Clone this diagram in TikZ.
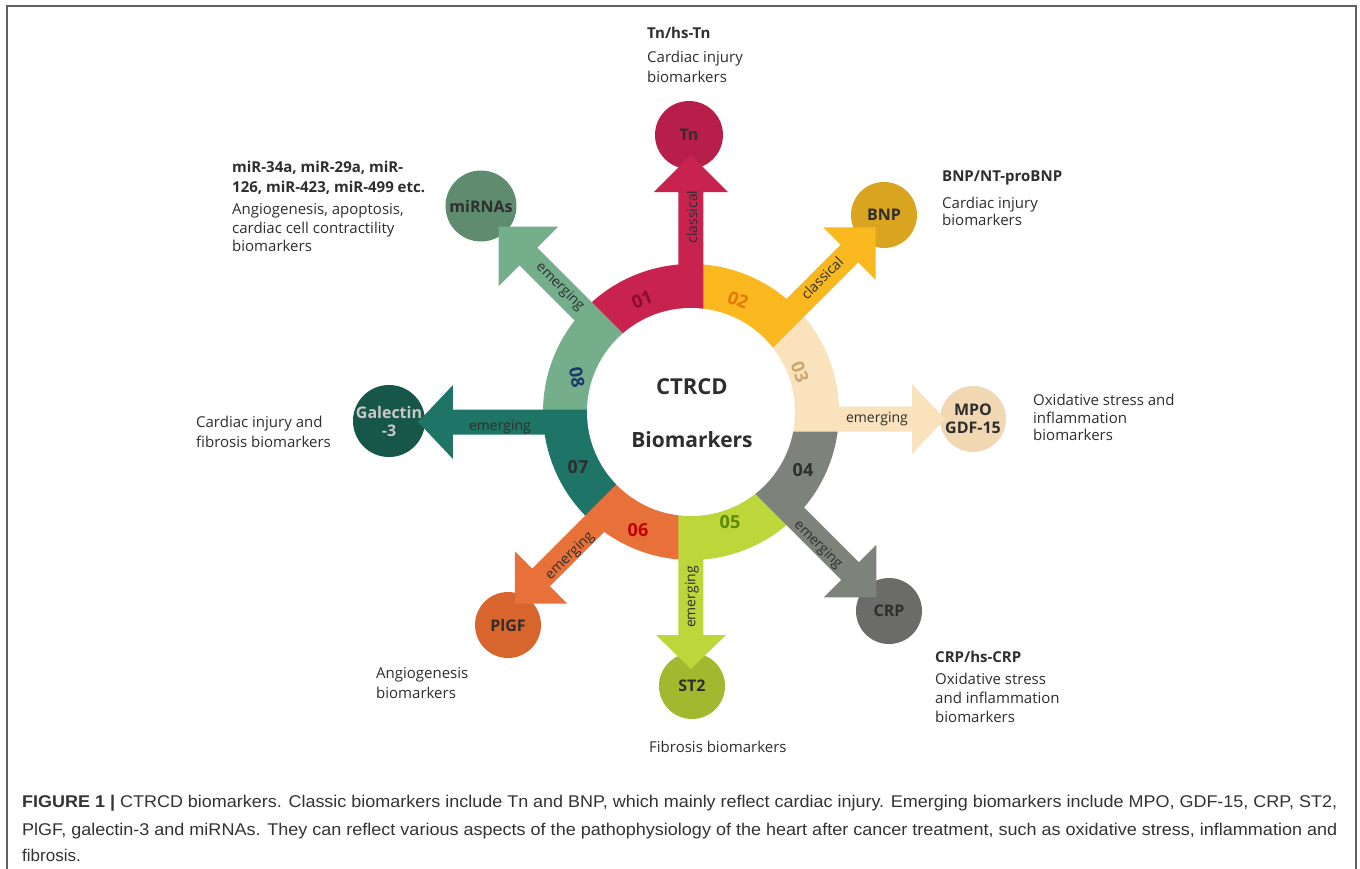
\documentclass[tikz,border=0pt]{standalone}
\usepackage{fontspec}
\setmainfont{Open Sans}
\newfontfamily\capfont{Liberation Sans}
\usepackage{graphicx}
\definecolor{cA}{HTML}{C8234F}\definecolor{kA}{HTML}{B71F4A}
\definecolor{cB}{HTML}{F8B81E}\definecolor{kB}{HTML}{D9A521}
\definecolor{cC}{HTML}{F9E2BC}\definecolor{kC}{HTML}{F2D7B3}
\definecolor{cD}{HTML}{7D837B}\definecolor{kD}{HTML}{6B6B69}
\definecolor{cE}{HTML}{BDD63A}\definecolor{kE}{HTML}{A2B82E}
\definecolor{cF}{HTML}{E8713A}\definecolor{kF}{HTML}{D9652E}
\definecolor{cG}{HTML}{1E7567}\definecolor{kG}{HTML}{17574A}
\definecolor{cH}{HTML}{74AE8B}\definecolor{kH}{HTML}{5F8C6F}
\definecolor{nA}{HTML}{8C0B2E}\definecolor{nB}{HTML}{E8760C}
\definecolor{nC}{HTML}{CCA66A}\definecolor{nE}{HTML}{5B8A05}
\definecolor{nF}{HTML}{C00000}\definecolor{nH}{HTML}{1B3A6B}
\definecolor{txt}{HTML}{2E2E2E}\definecolor{frameC}{HTML}{606060}
\definecolor{capC}{HTML}{333333}\definecolor{galtxt}{HTML}{C8C8C8}
\newcommand\markerarrow[6]{%
  \fill[#4, rotate=#1] (0,{#2-12.5}) -- ({#3-#5},{#2-12.5}) -- ({#3-#5},{#2-#6})
    -- (#3,#2) -- ({#3-#5},{#2+#6}) -- ({#3-#5},{#2+12.5}) -- (0,{#2+12.5}) -- cycle;}
\tikzset{
  ringnum/.style={font=\bfseries\fontsize{18}{18}\selectfont, inner sep=0},
  blabel/.style={font=\fontsize{14}{14}\selectfont, text=txt, inner sep=0},
  ctext/.style={font=\bfseries\fontsize{16}{18}\selectfont, text=txt, align=center, inner sep=0},
  anno/.style={anchor=base west, inner sep=0, font=\fontsize{15}{15}\selectfont, text=txt},
  annob/.style={anchor=base west, inner sep=0, font=\bfseries\fontsize{15}{15}\selectfont, text=txt},
  bubble/.style={circle, inner sep=0, draw=none},
  capline/.style={anchor=base west, inner sep=0, font=\capfont\fontsize{17}{17}\selectfont, text=capC}
}
\begin{document}
\begin{tikzpicture}[x=1pt,y=1pt]
\useasboundingbox (-691,-456) rectangle (669,412);
\fill[white] (-691,-456) rectangle (669,412);
\draw[line width=2pt, frameC] (-684,-460) -- (-684,406) -- (665,406) -- (665,-460);
% ring sectors
\foreach \a/\c in {90/cA,45/cB,0/cC,-45/cD,-90/cE,-135/cF,180/cG,135/cH}
  \fill[\c] (0,0) -- (\a:148) arc[start angle=\a, delta angle=45, radius=148] -- cycle;
% bubbles
\node[bubble, fill=kA, minimum size=68pt] (tn) at (-2,277) {};
\node[bubble, fill=kB, minimum size=66pt] (bnp) at (193,197) {};
\node[bubble, fill=kC, minimum size=66pt] (mpo) at (282,-7) {};
\node[bubble, fill=kD, minimum size=66pt] (crp) at (198,-199) {};
\node[bubble, fill=kE, minimum size=66pt] (st2) at (1,-274) {};
\node[bubble, fill=kF, minimum size=66pt] (plgf) at (-183,-213) {};
\node[bubble, fill=kG, minimum size=72pt] (gal) at (-302,-9) {};
\node[bubble, fill=kH, minimum size=71pt] (mir) at (-210,206) {};
% arrows
\markerarrow{90}{0}{257}{cA}{37}{37}
\markerarrow{45}{0}{261}{cB}{37}{37}
\markerarrow{0}{-7}{254}{cC}{33}{35}
\markerarrow{-45}{0}{262}{cD}{37}{37}
\markerarrow{-90}{0}{257}{cE}{34}{35}
\markerarrow{225}{11}{260}{cF}{37}{37}
\markerarrow{180}{10}{273}{cG}{35}{37}
\markerarrow{135}{5}{267}{cH}{42}{42}
% inner disk
\node[bubble, fill=white, minimum size=208pt] (core) at (0,0) {};
\node[font=\bfseries\fontsize{22}{22}\selectfont, text=txt, inner sep=0] (t1) at (1,25) {CTRCD};
\node[font=\bfseries\fontsize{21}{21}\selectfont, text=txt, inner sep=0] (t2) at (1,-28) {Biomarkers};
% ring numbers
\node[ringnum, text=nA, rotate=22] (n01) at (-49,112) {01};
\node[ringnum, text=nB, rotate=-22] (n02) at (47,112) {02};
\node[ringnum, text=nC, rotate=-70] (n03) at (109,40) {03};
\node[ringnum, text=txt] (n04) at (112,-58) {04};
\node[ringnum, text=nE] (n05) at (39,-110) {05};
\node[ringnum, text=nF] (n06) at (-53,-118) {06};
\node[ringnum, text=txt] (n07) at (-113,-55) {07};
\node[ringnum, text=nH, rotate=-80] (n08) at (-114,35) {08};
% arrow labels
\node[blabel, rotate=90] (l1) at (1,195) {classical};
\node[blabel, rotate=45] (l2) at (131,134) {classical};
\node[blabel] (l3) at (186,-7) {emerging};
\node[blabel, rotate=-45] (l4) at (127,-133) {emerging};
\node[blabel, rotate=90] (l5) at (1,-185) {emerging};
\node[blabel, rotate=45] (l6) at (-121,-144) {emerging};
\node[blabel] (l7) at (-191,-15) {emerging};
\node[blabel, rotate=-45] (l8) at (-131,125) {emerging};
% bubble texts
\node[ctext] (tnT) at (tn.center) {Tn};
\node[ctext] (bnpT) at (bnp.center) {BNP};
\node[ctext] (mpoT) at (mpo.center) {MPO\\GDF-15};
\node[ctext] (crpT) at (crp.center) {CRP};
\node[ctext] (st2T) at (st2.center) {ST2};
\node[ctext] (plgfT) at (plgf.center) {PlGF};
\node[ctext, text=galtxt] (galT) at (gal.center) {Galectin\\-3};
\node[ctext] (mirT) at (mir.center) {miRNAs};
% annotations
\node[annob] (a1) at (-44,373) {Tn/hs-Tn};
\node[anno] (a2) at (-44,349) {Cardiac injury};
\node[anno] (a3) at (-44,329) {biomarkers};
\node[annob] (b1) at (251,231) {BNP/NT-proBNP};
\node[anno] (b2) at (251,204) {Cardiac injury};
\node[anno] (b3) at (251,187) {biomarkers};
\node[anno] (c1) at (342,7) {Oxidative stress and};
\node[anno] (c2) at (342,-11) {inflammation};
\node[anno] (c3) at (342,-28) {biomarkers};
\node[annob] (d1) at (244,-250) {CRP/hs-CRP};
\node[anno] (d2) at (244,-272) {Oxidative stress};
\node[anno] (d3) at (244,-291) {and inflammation};
\node[anno] (d4) at (244,-310) {biomarkers};
\node[anno] (e1) at (-42,-340) {Fibrosis biomarkers};
\node[anno] (f1) at (-315,-266) {Angiogenesis};
\node[anno] (f2) at (-315,-286) {biomarkers};
\node[anno] (g1) at (-495,-15) {Cardiac injury and};
\node[anno] (g2) at (-495,-35) {fibrosis biomarkers};
\node[annob] (h1) at (-459,240) {miR-34a, miR-29a, miR-};
\node[annob] (h2) at (-459,219) {126, miR-423, miR-499 etc.};
\node[anno] (h3) at (-459,198) {Angiogenesis, apoptosis,};
\node[anno] (h4) at (-459,179) {cardiac cell contractility};
\node[anno] (h5) at (-459,161) {biomarkers};
% caption
\node[capline] (cap1) at (-669,-395) {\resizebox{1315pt}{\height}{\textbf{FIGURE 1 |} CTRCD biomarkers. Classic biomarkers include Tn and BNP, which mainly reflect cardiac injury. Emerging biomarkers include MPO, GDF-15, CRP, ST2,}};
\node[capline] (cap2) at (-669,-423) {\resizebox{1315pt}{\height}{PlGF, galectin-3 and miRNAs. They can reflect various aspects of the pathophysiology of the heart after cancer treatment, such as oxidative stress, inflammation and}};
\node[capline] (cap3) at (-669,-449) {fibrosis.};
\end{tikzpicture}
\end{document}
